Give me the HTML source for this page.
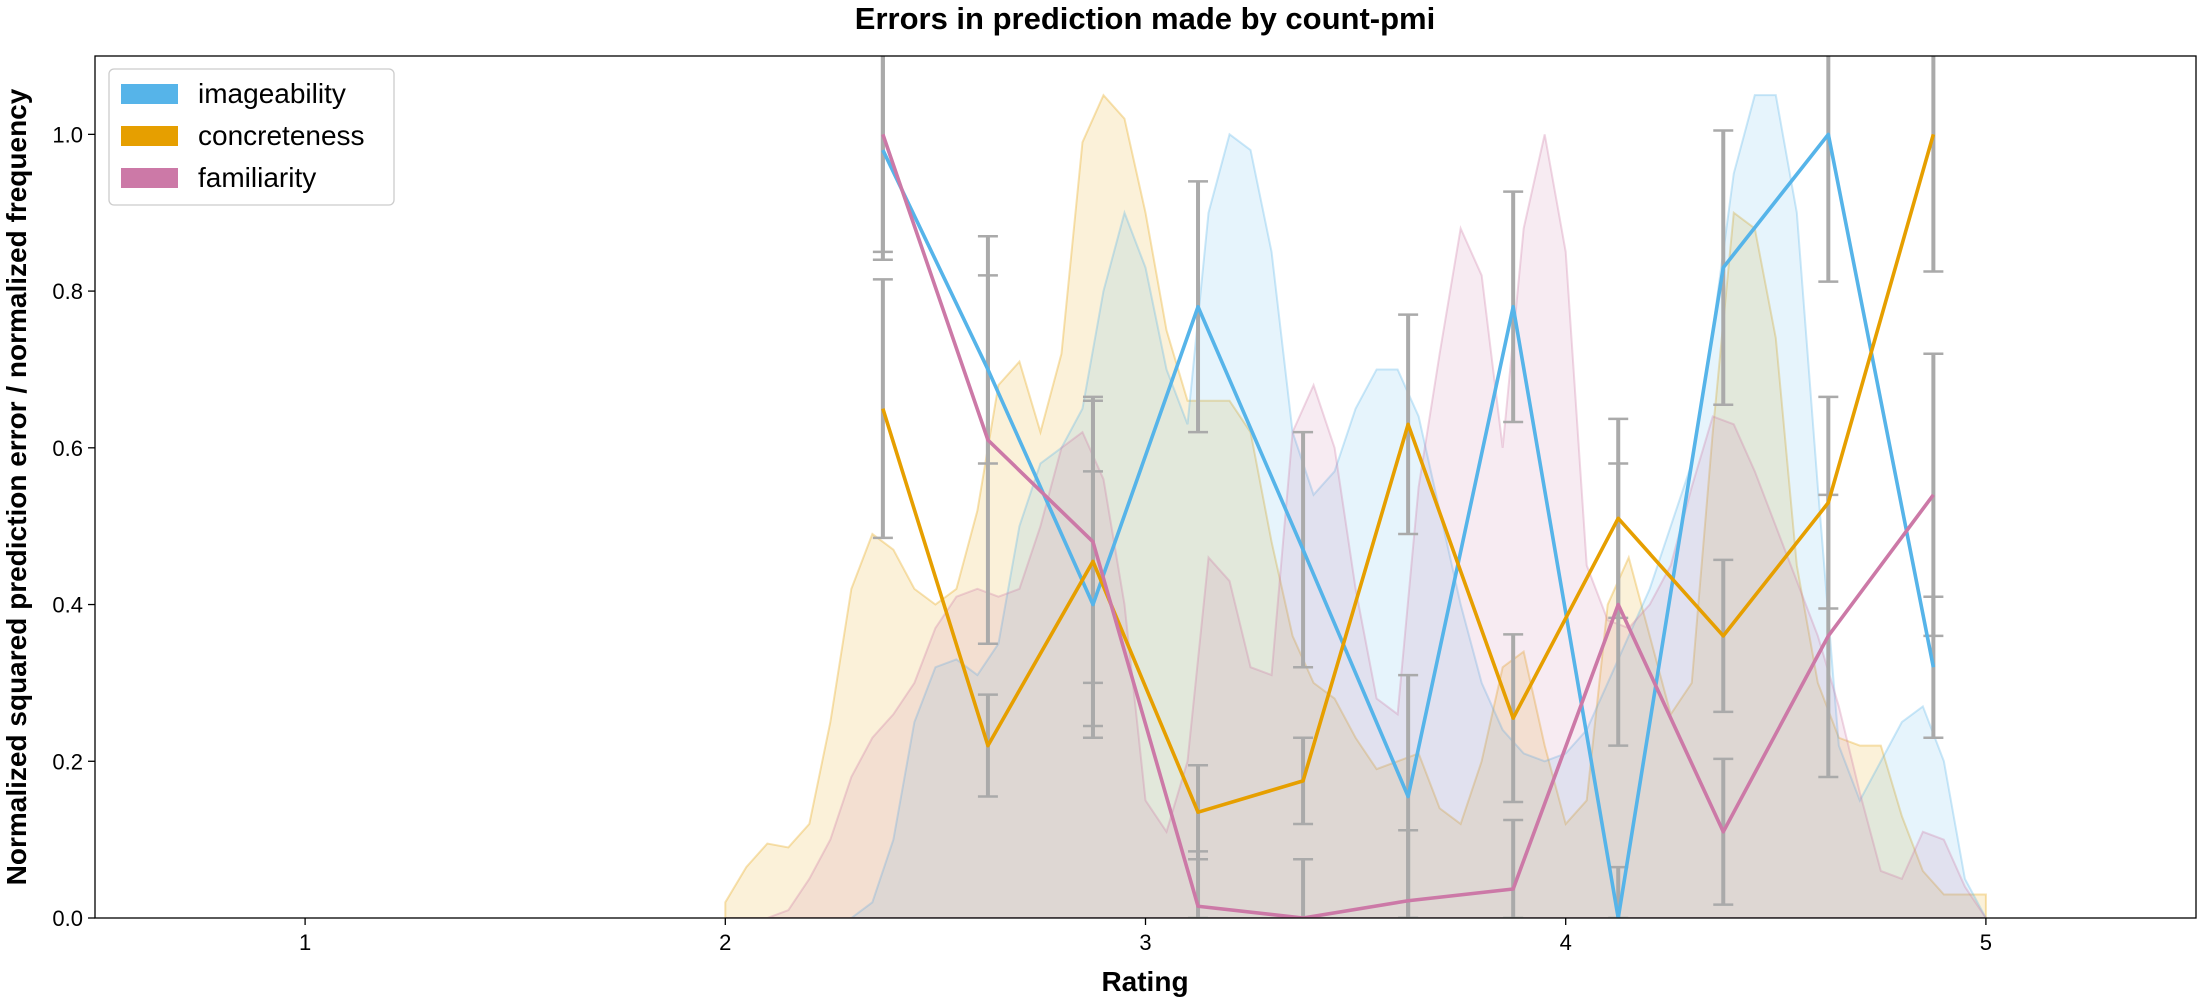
<!DOCTYPE html>
<html><head><meta charset="utf-8">
<style>
html,body{margin:0;padding:0;background:#fff;}
svg{display:block;font-family:"Liberation Sans","DejaVu Sans",sans-serif;}
</style></head>
<body>
<svg id="chart" width="2200" height="1000" viewBox="0 0 2200 1000" xmlns="http://www.w3.org/2000/svg">
<text x="1145" y="29" text-anchor="middle" font-size="31" font-weight="bold">Errors in prediction made by count-pmi</text>
<text x="1145" y="991" text-anchor="middle" font-size="28" font-weight="bold">Rating</text>
<text transform="translate(26,487) rotate(-90)" text-anchor="middle" font-size="28" font-weight="bold">Normalized squared prediction error / normalized frequency</text>
<g id="plot"></g>
<rect x="95" y="56" width="2101" height="862" fill="none" stroke="#000" stroke-width="1.3"/>
<g id="legend">
<rect x="109" y="69" width="285" height="136" rx="5" fill="#fff" fill-opacity="0.8" stroke="#ccc" stroke-width="1.3"/>
<rect x="121" y="84" width="57" height="20" fill="#56B4E9"/>
<text x="198" y="103" font-size="28">imageability</text>
<rect x="121" y="126" width="57" height="20" fill="#E69F00"/>
<text x="198" y="145" font-size="28">concreteness</text>
<rect x="121" y="168" width="57" height="20" fill="#CC79A7"/>
<text x="198" y="187" font-size="28">familiarity</text>
</g>
</svg>
<script>
const xTicks = [1, 2, 3, 4, 5];
const yTicks = [0.0, 0.2, 0.4, 0.6, 0.8, 1.0];
const binCenters = [2.375, 2.625, 2.875, 3.125, 3.375, 3.625, 3.875, 4.125, 4.375, 4.625, 4.875];
const imageabilityErr = [0.98, 0.70, 0.40, 0.78, 0.47, 0.155, 0.78, 0.0, 0.83, 1.0, 0.32];
const imageabilitySd = [0.14, 0.12, 0.17, 0.16, 0.15, 0.155, 0.147, 0.065, 0.175, 0.188, 0.09];
const concretenessErr = [0.65, 0.22, 0.455, 0.135, 0.175, 0.63, 0.255, 0.51, 0.36, 0.53, 1.0];
const concretenessSd = [0.165, 0.065, 0.21, 0.06, 0.055, 0.14, 0.107, 0.127, 0.097, 0.135, 0.175];
const familiarityErr = [1.0, 0.61, 0.48, 0.015, 0.0, 0.022, 0.037, 0.40, 0.11, 0.36, 0.54];
const familiaritySd = [0.15, 0.26, 0.18, 0.07, 0.075, 0.09, 0.088, 0.18, 0.093, 0.18, 0.18];
const densityX = [2.0,2.05,2.1,2.15,2.2,2.25,2.3,2.35,2.4,2.45,2.5,2.55,2.6,2.65,2.7,2.75,2.8,2.85,2.9,2.95,3.0,3.05,3.1,3.15,3.2,3.25,3.3,3.35,3.4,3.45,3.5,3.55,3.6,3.65,3.7,3.75,3.8,3.85,3.9,3.95,4.0,4.05,4.1,4.15,4.2,4.25,4.3,4.35,4.4,4.45,4.5,4.55,4.6,4.65,4.7,4.75,4.8,4.85,4.9,4.95,5.0];
const concretenessFreq = [0.02,0.065,0.095,0.09,0.12,0.25,0.42,0.49,0.47,0.42,0.40,0.42,0.52,0.68,0.71,0.62,0.72,0.99,1.05,1.02,0.90,0.75,0.66,0.66,0.66,0.62,0.48,0.36,0.30,0.28,0.23,0.19,0.20,0.21,0.14,0.12,0.20,0.32,0.34,0.22,0.12,0.15,0.40,0.46,0.36,0.26,0.30,0.62,0.90,0.88,0.74,0.45,0.30,0.23,0.22,0.22,0.13,0.06,0.03,0.03,0.03];
const imageabilityFreq = [0,0,0,0,0,0,0,0.02,0.10,0.25,0.32,0.33,0.31,0.35,0.50,0.58,0.60,0.65,0.80,0.90,0.83,0.70,0.63,0.90,1.0,0.98,0.85,0.62,0.54,0.57,0.65,0.70,0.70,0.64,0.52,0.40,0.30,0.24,0.21,0.20,0.21,0.24,0.30,0.36,0.42,0.50,0.58,0.75,0.95,1.05,1.05,0.90,0.55,0.22,0.15,0.20,0.25,0.27,0.20,0.05,0];
const familiarityFreq = [0,0,0,0.01,0.05,0.10,0.18,0.23,0.26,0.30,0.37,0.41,0.42,0.41,0.42,0.50,0.60,0.62,0.56,0.40,0.15,0.11,0.20,0.46,0.43,0.32,0.31,0.62,0.68,0.60,0.42,0.28,0.26,0.55,0.72,0.88,0.82,0.60,0.88,1.0,0.85,0.45,0.38,0.37,0.40,0.45,0.55,0.64,0.63,0.57,0.50,0.43,0.36,0.27,0.16,0.06,0.05,0.11,0.10,0.04,0];

const L=95,R=2196,T=56,B=918, X0=0.5,X1=5.5,Y0=0,Y1=1.1;
const sx=v=>L+(v-X0)/(X1-X0)*(R-L);
const sy=v=>B-(v-Y0)/(Y1-Y0)*(B-T);
const NS="http://www.w3.org/2000/svg";
const svg=document.getElementById('chart');
const plot=document.getElementById('plot');
function mk(tag,attrs,parent){const e=document.createElementNS(NS,tag);for(const k in attrs)e.setAttribute(k,attrs[k]);(parent||plot).appendChild(e);return e;}

const defs=mk('defs',{},svg);
const cp=mk('clipPath',{id:'clip'},defs);
mk('rect',{x:L,y:T,width:R-L,height:B-T},cp);
plot.setAttribute('clip-path','url(#clip)');

xTicks.forEach(t=>{
  const l=mk('line',{x1:sx(t),x2:sx(t),y1:B,y2:B+7,stroke:'#000','stroke-width':1.3},svg);
  
  
  const tx=mk('text',{x:sx(t),y:B+32,'text-anchor':'middle','font-size':22},svg);
  tx.textContent=String(t);
  
  
});
yTicks.forEach(t=>{
  const l=mk('line',{x1:L-7,x2:L,y1:sy(t),y2:sy(t),stroke:'#000','stroke-width':1.3},svg);
  
  
  const tx=mk('text',{x:L-12,y:sy(t)+8,'text-anchor':'end','font-size':22},svg);
  tx.textContent=t.toFixed(1);
  
  
});

function area(vals,color,name){
  let d='M'+sx(densityX[0])+','+sy(0);
  densityX.forEach((x,i)=>{d+=' L'+sx(x)+','+sy(vals[i]);});
  d+=' L'+sx(densityX[densityX.length-1])+','+sy(0)+' Z';
  const p=mk('path',{d:d,fill:color,'fill-opacity':0.15,stroke:color,'stroke-opacity':0.3,'stroke-width':2});
  
  
}
area(concretenessFreq,'#E69F00','concreteness-frequency-area');
area(imageabilityFreq,'#56B4E9','imageability-frequency-area');
area(familiarityFreq,'#CC79A7','familiarity-frequency-area');

function errbars(vals,sds,name){
  binCenters.forEach((x,i)=>{
    const lo=sy(Math.max(0,vals[i]-sds[i])),hi=sy(vals[i]+sds[i]);
    const g=mk('g',{stroke:'#aaa','stroke-width':4});
    
    
    mk('line',{x1:sx(x),x2:sx(x),y1:lo,y2:hi},g);
    mk('line',{x1:sx(x)-10,x2:sx(x)+10,y1:lo,y2:lo,'stroke-width':2.5},g);
    mk('line',{x1:sx(x)-10,x2:sx(x)+10,y1:hi,y2:hi,'stroke-width':2.5},g);
  });
}
errbars(imageabilityErr,imageabilitySd,'imageability-error-bar');
errbars(concretenessErr,concretenessSd,'concreteness-error-bar');
errbars(familiarityErr,familiaritySd,'familiarity-error-bar');

function line(vals,color,name){
  const pts=binCenters.map((x,i)=>sx(x)+','+sy(vals[i])).join(' ');
  const p=mk('polyline',{points:pts,fill:'none',stroke:color,'stroke-width':3.6,'stroke-linejoin':'round'});
  
  
}
line(imageabilityErr,'#56B4E9','imageability-error-line');
line(concretenessErr,'#E69F00','concreteness-error-line');
line(familiarityErr,'#CC79A7','familiarity-error-line');
</script>
</body></html>
